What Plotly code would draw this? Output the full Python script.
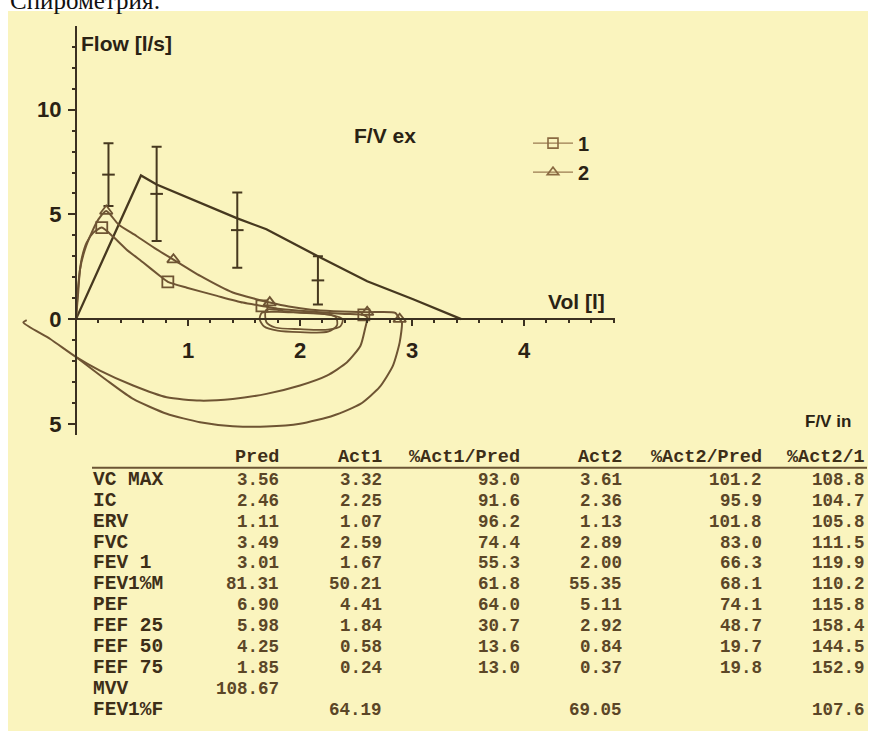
import numpy as np
import plotly.graph_objects as go

# ---------------- data ----------------
# predicted flow-volume curve (vol l, flow l/s)
pred_vol = [0.0, 0.58, 0.72, 1.107, 1.44, 1.70, 2.16, 2.60, 3.01, 3.44]
pred_flow = [0.0, 6.86, 6.43, 5.57, 4.81, 4.29, 3.00, 1.81, 0.95, 0.0]
# predicted PEF / FEF25 / FEF50 / FEF75 with range bars
bar_vol = [0.29, 0.72, 1.44, 2.16]
bar_flow = [6.90, 5.98, 4.25, 1.85]
bar_err = [1.50, 2.25, 1.80, 1.15]

# test 1: expiration then inspiration
t1_vol = [0.0, 0.02, 0.05, 0.095, 0.155, 0.23, 0.33, 0.45, 0.60, 0.75, 0.82, 0.99, 1.26,
          1.49, 1.66, 1.80, 2.00, 2.20, 2.40, 2.57, 2.60, 2.58, 2.54, 2.42, 2.24, 2.00,
          1.70, 1.40, 1.107, 0.81, 0.51, 0.214, 0.006, -0.23, -0.47, -0.44]
t1_flow = [0.0, 1.59, 2.86, 3.65, 4.13, 4.37, 3.94, 3.33, 2.70, 2.06, 1.78, 1.50, 1.11,
           0.79, 0.63, 0.50, 0.40, 0.32, 0.25, 0.20, 0.08, -0.48, -1.27, -2.06, -2.70, -3.17,
           -3.57, -3.81, -3.89, -3.73, -3.17, -2.46, -1.83, -0.95, -0.16, -0.05]
t1_tidal_vol = [1.66, 1.80, 2.00, 2.20, 2.32, 2.33, 2.25, 2.00, 1.80, 1.68, 1.64, 1.66]
t1_tidal_flow = [0.30, 0.35, 0.30, 0.25, 0.10, -0.30, -0.60, -0.62, -0.55, -0.35, 0.0, 0.30]
t1_mark_vol = [0.23, 0.82, 1.66, 2.57]
t1_mark_flow = [4.37, 1.78, 0.63, 0.20]

# test 2: expiration then inspiration
t2_vol = [0.0, 0.02, 0.036, 0.08, 0.14, 0.20, 0.27, 0.38, 0.54, 0.72, 0.87, 1.11, 1.40,
          1.61, 1.73, 1.90, 2.10, 2.30, 2.60, 2.85, 2.89, 2.91, 2.89, 2.83, 2.71, 2.54,
          2.30, 2.00, 1.70, 1.40, 1.107, 0.81, 0.51, 0.30, 0.006]
t2_flow = [0.0, 1.30, 2.38, 3.33, 4.13, 4.76, 5.16, 4.52, 3.97, 3.33, 2.84, 2.06, 1.27,
           0.95, 0.79, 0.60, 0.45, 0.38, 0.33, 0.30, 0.0, -0.16, -1.11, -2.22, -3.25, -4.05,
           -4.60, -5.00, -5.13, -5.11, -4.92, -4.52, -3.81, -3.02, -1.83]
t2_tidal_vol = [1.70, 1.90, 2.10, 2.28, 2.38, 2.36, 2.25, 2.00, 1.78, 1.70, 1.70]
t2_tidal_flow = [0.45, 0.35, 0.30, 0.20, 0.0, -0.35, -0.50, -0.48, -0.40, -0.15, 0.45]
t2_mark_vol = [0.27, 0.87, 1.73, 2.60, 2.89]
t2_mark_flow = [5.16, 2.84, 0.79, 0.33, 0.0]

# table
row_labels = ["VC MAX", "IC", "ERV", "FVC", "FEV 1", "FEV1%M", "PEF", "FEF 25",
              "FEF 50", "FEF 75", "MVV", "FEV1%F"]
col_heads = ["Pred", "Act1", "%Act1/Pred", "Act2", "%Act2/Pred", "%Act2/1"]
pred = [3.56, 2.46, 1.11, 3.49, 3.01, 81.31, 6.90, 5.98, 4.25, 1.85, 108.67, None]
act1 = [3.32, 2.25, 1.07, 2.59, 1.67, 50.21, 4.41, 1.84, 0.58, 0.24, None, 64.19]
pct_act1_pred = [93.0, 91.6, 96.2, 74.4, 55.3, 61.8, 64.0, 30.7, 13.6, 13.0, None, None]
act2 = [3.61, 2.36, 1.13, 2.89, 2.00, 55.35, 5.11, 2.92, 0.84, 0.37, None, 69.05]
pct_act2_pred = [101.2, 95.9, 101.8, 83.0, 66.3, 68.1, 74.1, 48.7, 19.7, 19.8, None, None]
pct_act2_1 = [108.8, 104.7, 105.8, 111.5, 119.9, 110.2, 115.8, 158.4, 144.5, 152.9, None, 107.6]

# ---------------- geometry ----------------
W, H = 870, 733
X0, XS = 76, 112     # pixel of vol 0, pixels per litre
Y0, YS = 320, 21     # pixel of flow 0, pixels per l/s


def fx(px):
    return px / W


def fy(py):
    return 1 - py / H


BG = "#faf4be"
AX = "#3b3020"
CURVE = "#6e5433"
PRED = "#46381f"
TXT = "#2a2214"
TAB = "#5b4627"

fig = go.Figure()

# predicted curve
fig.add_trace(go.Scatter(x=pred_vol, y=pred_flow, mode="lines",
                         line=dict(color=PRED, width=2.3), showlegend=False, hoverinfo="skip"))
fig.add_trace(go.Scatter(x=bar_vol, y=bar_flow, mode="markers",
                         marker=dict(symbol="line-ew", size=9, color=PRED,
                                     line=dict(width=2, color=PRED)),
                         error_y=dict(type="data", array=bar_err, width=5, thickness=2,
                                      color=PRED),
                         showlegend=False, hoverinfo="skip"))

# test curves
for v, f, tv, tf, mv, mf, sym, name in [
    (t1_vol, t1_flow, t1_tidal_vol, t1_tidal_flow, t1_mark_vol, t1_mark_flow, "square-open", "1"),
    (t2_vol, t2_flow, t2_tidal_vol, t2_tidal_flow, t2_mark_vol, t2_mark_flow, "triangle-up-open", "2"),
]:
    fig.add_trace(go.Scatter(x=v, y=f, mode="lines",
                             line=dict(color=CURVE, width=2, shape="spline", smoothing=0.6),
                             showlegend=False, hoverinfo="skip"))
    fig.add_trace(go.Scatter(x=tv, y=tf, mode="lines",
                             line=dict(color=CURVE, width=1.8, shape="spline", smoothing=0.8),
                             showlegend=False, hoverinfo="skip"))
    fig.add_trace(go.Scatter(x=mv, y=mf, mode="markers",
                             marker=dict(symbol=sym, size=11, color=CURVE,
                                         line=dict(width=1.8, color=CURVE)),
                             showlegend=False, hoverinfo="skip"))
    fig.add_trace(go.Scatter(x=[None], y=[None], mode="lines+markers", name="<b>%s</b>" % name,
                             line=dict(color="#9a7b50", width=1.4),
                             marker=dict(symbol=sym, size=10, color="#8a6a42",
                                         line=dict(width=1.6, color="#8a6a42"))))

# dummy trace to realise the display-axis subplot
fig.add_trace(go.Scatter(x=[None], y=[None], xaxis="x2", yaxis="y2", showlegend=False,
                         hoverinfo="skip"))

x_lo, x_hi = (0 - X0) / XS, (W - X0) / XS
y_lo, y_hi = (Y0 - H) / YS, (Y0 - 0) / YS
ax_x_end = (615 - X0) / XS
ax_y_top = (Y0 - 26) / YS
ax_y_bot = (Y0 - 436) / YS

fig.update_layout(
    width=W, height=H, margin=dict(l=0, r=0, t=0, b=0),
    paper_bgcolor="white", plot_bgcolor="rgba(0,0,0,0)",
    xaxis=dict(domain=[0, 1], range=[x_lo, x_hi], visible=False),
    yaxis=dict(domain=[0, 1], range=[y_lo, y_hi], visible=False),
    xaxis2=dict(domain=[fx(X0), fx(615)], range=[0, ax_x_end], anchor="free",
                position=fy(Y0), showline=True, linecolor=AX, linewidth=2,
                showgrid=False, zeroline=False, ticks="outside", ticklen=6, tickwidth=2,
                tickcolor=AX, tickvals=[1, 2, 3, 4],
                ticktext=["<b>1</b>", "<b>2</b>", "<b>3</b>", "<b>4</b>"],
                tickfont=dict(family="Liberation Sans", size=22, color=TXT),
                ticklabelstandoff=5,
                minor=dict(tickvals=list(np.round(np.arange(0.2, 4.81, 0.2), 2)),
                           ticks="outside", ticklen=3, tickwidth=2, tickcolor=AX)),
    yaxis2=dict(domain=[fy(436), fy(26)], range=[ax_y_bot, ax_y_top], anchor="free",
                position=fx(X0), showline=True, linecolor=AX, linewidth=2,
                showgrid=False, zeroline=False, ticks="outside", ticklen=7, tickwidth=2,
                tickcolor=AX, tickvals=[-5, 0, 5, 10],
                ticktext=["<b>5</b>", "<b>0</b>", "<b>5</b>", "<b>10</b>"],
                tickfont=dict(family="Liberation Sans", size=22, color=TXT),
                ticklabelstandoff=2,
                minor=dict(tickvals=list(range(-5, 14)), ticks="outside", ticklen=3,
                           tickwidth=2, tickcolor=AX)),
    legend=dict(x=fx(528), y=fy(124), xanchor="left", yanchor="top",
                bgcolor="rgba(0,0,0,0)", font=dict(family="Liberation Sans", size=20, color=TXT),
                itemwidth=40, tracegroupgap=0),
    showlegend=True,
)

# scanned page background
fig.add_shape(type="rect", xref="paper", yref="paper", x0=fx(8), x1=fx(868), y0=0, y1=fy(11),
              fillcolor=BG, line=dict(width=0), layer="below")
# table rule
fig.add_shape(type="line", xref="paper", yref="paper", x0=fx(92), x1=fx(867), y0=fy(469),
              y1=fy(469), line=dict(color="#6b5534", width=2))

ann = []
# partially cut heading of the page
ann.append(dict(text="Спирометрия:", xref="paper", yref="paper", x=fx(8), y=fy(0), xanchor="left",
                yanchor="middle", showarrow=False,
                font=dict(family="Liberation Serif", size=25, color="#111111")))
lab = dict(family="Liberation Sans", size=21, color=TXT)
ann.append(dict(text="<b>Flow [l/s]</b>", xref="paper", yref="paper", x=fx(79), y=fy(44),
                xanchor="left", yanchor="middle", showarrow=False, font=lab))
ann.append(dict(text="<b>F/V ex</b>", xref="paper", yref="paper", x=fx(352), y=fy(136),
                xanchor="left", yanchor="middle", showarrow=False, font=lab))
ann.append(dict(text="<b>Vol [l]</b>", xref="paper", yref="paper", x=fx(546), y=fy(302),
                xanchor="left", yanchor="middle", showarrow=False, font=lab))
ann.append(dict(text="<b>F/V in</b>", xref="paper", yref="paper", x=fx(803), y=fy(423),
                xanchor="left", yanchor="middle", showarrow=False,
                font=dict(family="Liberation Sans", size=17, color=TXT)))

# table text
mono = dict(family="Liberation Mono", size=17.5, color=TAB)
mono_head = dict(family="Liberation Mono", size=18.5, color="#3d2e18")
mono_lab = dict(family="Liberation Mono", size=19.5, color="#3d2e18")
col_right = [280, 383, 521, 623, 763, 866]
col_data = [pred, act1, pct_act1_pred, act2, pct_act2_pred, pct_act2_1]
col_fmt = ["{:.2f}", "{:.2f}", "{:.1f}", "{:.2f}", "{:.1f}", "{:.1f}"]
for head, xr in zip(col_heads, col_right):
    ann.append(dict(text="<b>%s</b>" % head, xref="paper", yref="paper", x=fx(xr + 1), y=fy(459),
                    xanchor="right", yanchor="middle", showarrow=False, font=mono_head))
for i, label in enumerate(row_labels):
    yy = fy(481 + 21.0 * i)
    ann.append(dict(text="<b>%s</b>" % label, xref="paper", yref="paper", x=fx(91), y=yy,
                    xanchor="left", yanchor="middle", showarrow=False, font=mono_lab))
    for col, xr, fmt in zip(col_data, col_right, col_fmt):
        if col[i] is None:
            continue
        ann.append(dict(text="<b>%s</b>" % fmt.format(col[i]), xref="paper", yref="paper",
                        x=fx(xr + 1), y=yy, xanchor="right", yanchor="middle", showarrow=False,
                        font=mono))
fig.update_layout(annotations=ann)

fig.write_html("out.html", config={"displayModeBar": False},
               post_script="document.body.style.margin='0';document.body.style.overflow='hidden';")
